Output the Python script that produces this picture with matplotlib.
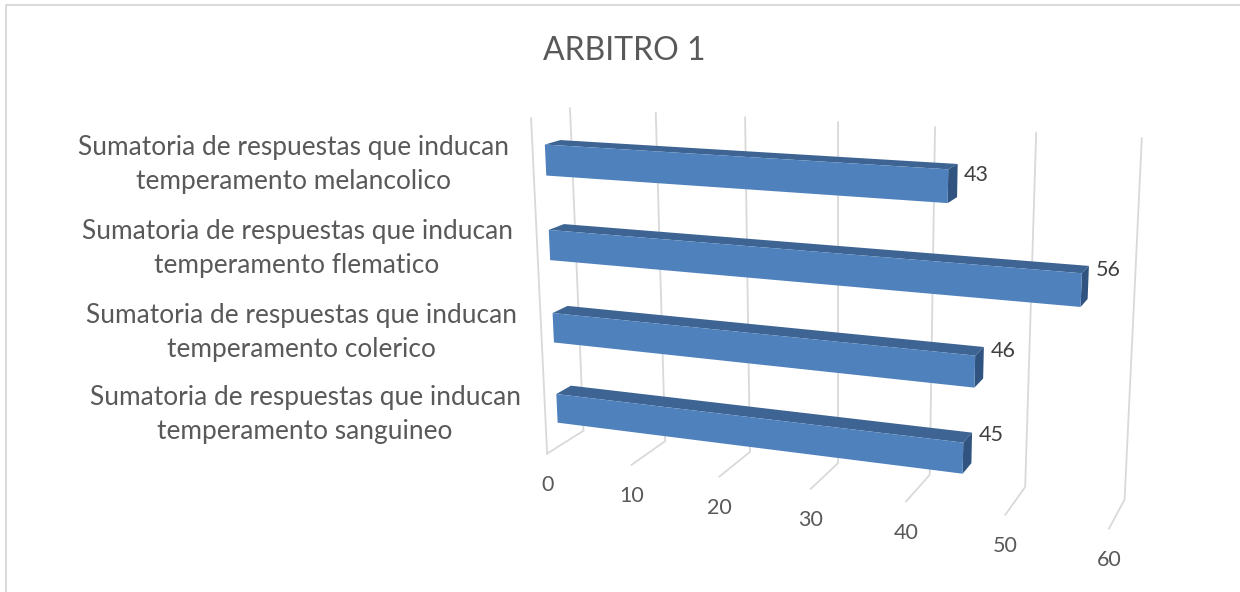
import numpy as np
import matplotlib
matplotlib.use('Agg')
import matplotlib.pyplot as plt
from matplotlib.patches import Polygon

plt.rcParams['font.family'] = ['Lato', 'DejaVu Sans']

title = 'ARBITRO 1'
categories = [
    'Sumatoria de respuestas que inducan\ntemperamento sanguineo',
    'Sumatoria de respuestas que inducan\ntemperamento colerico',
    'Sumatoria de respuestas que inducan\ntemperamento flematico',
    'Sumatoria de respuestas que inducan\ntemperamento melancolico',
]
values = [45, 46, 56, 43]
ticks = [0, 10, 20, 30, 40, 50, 60]

# where the 3D box lands on the canvas: (value, depth, height) -> pixel
back_floor = [(583, 430), (666, 440), (750, 453), (837, 464), (930, 475), (1025, 487), (1125, 499)]
back_top = [(570, 108), (656, 113), (745, 117), (838, 123), (935, 127), (1036, 133), (1142, 138)]
front_floor = [(547, 453), (632, 466), (719, 477), (811, 489), (906, 501), (1005, 515), (1109, 528)]


def fit_camera():
    rows, rhs = [], []
    pts = []
    for i, t in enumerate(ticks):
        pts.append((t, 0, 0, back_floor[i]))
        pts.append((t, 0, 1, back_top[i]))
        pts.append((t, 1, 0, front_floor[i]))
    pts.append((0, 1, 1, (531, 118)))
    for v, d, h, (px, py) in pts:
        rows.append([v, d, h, 1, 0, 0, 0, 0, -px * v, -px * d, -px * h])
        rhs.append(px)
        rows.append([0, 0, 0, 0, v, d, h, 1, -py * v, -py * d, -py * h])
        rhs.append(py)
    sol = np.linalg.lstsq(np.array(rows, float), np.array(rhs, float), rcond=None)[0]
    return np.append(sol, 1).reshape(3, 4)


cam = fit_camera()


def project(v, d, h):
    p = cam @ np.array([v, d, h, 1.0])
    return p[0] / p[2], p[1] / p[2]


fig = plt.figure(figsize=(12.4, 5.92), dpi=100)
ax = fig.add_axes([0, 0, 1, 1])
ax.set_xlim(0, 1240)
ax.set_ylim(592, 0)
ax.axis('off')

grid_color = '#D9D9D9'
text_color = '#595959'

# chart border
ax.plot([5.5, 5.5, 1240], [592, 5, 5], color=grid_color, lw=1.4)

ax.text(624, 51, title, ha='center', va='center', fontsize=23, color=text_color)

# gridlines and the little floor ticks
for t in ticks:
    pts = [project(t, 0, 1), project(t, 0, 0), project(t, 1, 0)]
    ax.plot(*zip(*pts), color=grid_color, lw=1.3, solid_joinstyle='miter')
    x, y = project(t, 1, 0)
    ax.text(x, y + 31, str(t), ha='center', va='center', fontsize=15.5, color=text_color)
ax.plot(*zip(project(0, 1, 1), project(0, 1, 0)), color=grid_color, lw=1.3)

# bars
front_d, back_d = 0.69, 0.29
slot = [0.12, 0.37, 0.62, 0.87]
half = 0.045
label_nudge = [2, 4, 4, 11]
for i, v in enumerate(values):
    lo, hi = slot[i] - half, slot[i] + half
    top = [project(0, front_d, hi), project(0, back_d, hi), project(v, back_d, hi), project(v, front_d, hi)]
    end = [project(v, front_d, hi), project(v, back_d, hi), project(v, back_d, lo), project(v, front_d, lo)]
    face = [project(0, front_d, lo), project(0, front_d, hi), project(v, front_d, hi), project(v, front_d, lo)]
    ax.add_patch(Polygon(top, closed=True, fc='#3E6493', ec='none', zorder=3))
    ax.add_patch(Polygon(end, closed=True, fc='#30547F', ec='none', zorder=3))
    ax.add_patch(Polygon(face, closed=True, fc='#4F81BD', ec='none', zorder=4))
    x, y = project(v, back_d, hi)
    ax.text(x + 19, y + label_nudge[i], str(v), ha='center', va='center', fontsize=15.5, color='#404040')

    lab_x = [305, 301, 297, 293][i]
    lab_y = [414.5, 332.5, 248.5, 164.5][i]
    ax.text(lab_x, lab_y, categories[i], ha='center', va='center', fontsize=18.9, color=text_color, linespacing=1.4)

fig.savefig('out.png', dpi=100)
